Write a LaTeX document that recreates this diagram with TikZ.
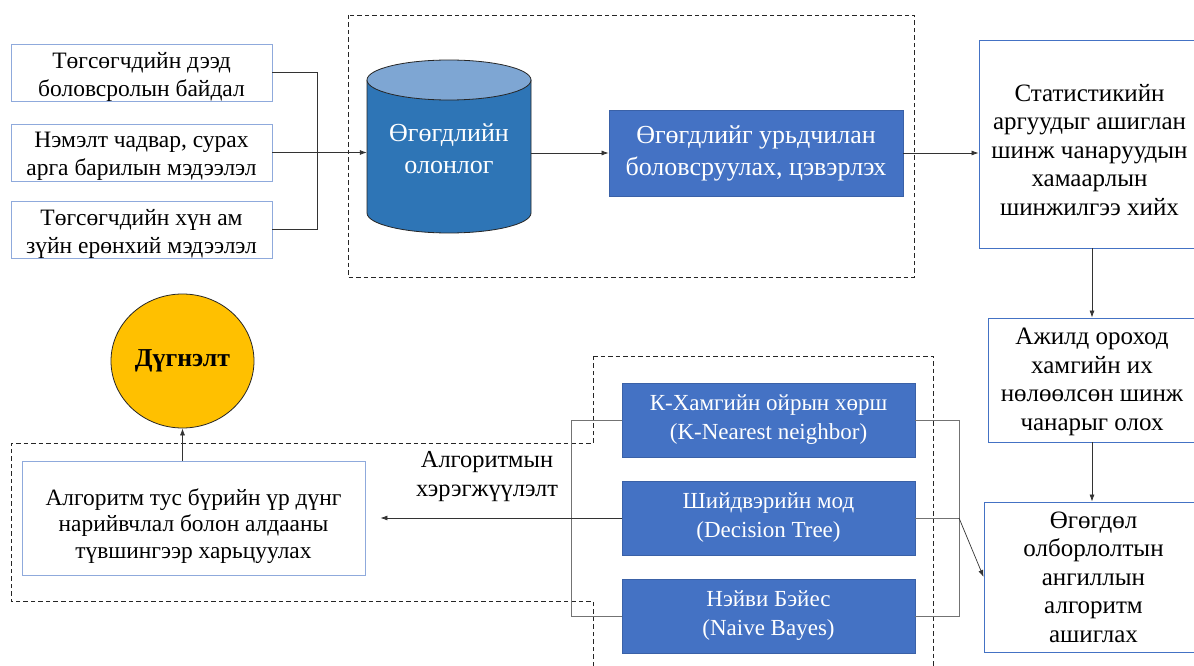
\documentclass[tikz,border=0pt]{standalone}
\usepackage{fontspec}
\setmainfont{Liberation Serif}
\usetikzlibrary{arrows.meta,shapes.geometric,calc}
\definecolor{boxblue}{HTML}{4472C4}
\definecolor{edgeblue}{HTML}{8FAADC}
\definecolor{dbbody}{HTML}{2E75B6}
\definecolor{dbtop}{HTML}{7EA6D3}
\definecolor{gold}{HTML}{FFC000}
\tikzset{
  txt/.style={font=\fontsize{23.5}{28}\selectfont, align=center, inner sep=0pt},
  inbox/.style={draw=edgeblue, line width=0.9pt, fill=white, inner sep=0pt},
  stepbox/.style={draw=boxblue, line width=0.9pt, fill=white, inner sep=0pt},
  steptxt/.style={txt, font=\fontsize{25}{28.5}\selectfont},
  bluebox/.style={txt, draw=boxblue!85!black, line width=0.8pt, fill=boxblue, text=white},
  conn/.style={draw=black!80, line width=0.7pt},
  brk/.style={draw=black!55, line width=0.7pt},
  arr/.style={conn, -{Latex[length=7pt,width=5pt]}},
  grp/.style={draw=black!85, line width=0.8pt, dash pattern=on 4.5pt off 3pt},
}
\begin{document}
\begin{tikzpicture}[x=1pt,y=-1pt]
\useasboundingbox (0,0) rectangle (1194,666);

% group outlines
\draw[grp] (348,15) rectangle (914,277);
\draw[grp] (593,356) -- (933,356) -- (933,666) -- (593,666) -- (593,601)
  -- (11,601) -- (11,443) -- (593,443) -- cycle;

% input data boxes (text sits slightly low in each box)
\node[inbox, minimum width=261, minimum height=57] (b1) at (141.5,72.5) {};
\node[txt] (b1t) at ([yshift=-4]b1.center) {Төгсөгчдийн дээд\\боловсролын байдал};
\node[inbox, minimum width=261, minimum height=57] (b2) at (141.5,152.5) {};
\node[txt] (b2t) at ([yshift=-4]b2.center) {Нэмэлт чадвар, сурах\\арга барилын мэдээлэл};
\node[inbox, minimum width=261, minimum height=57] (b3) at (141.5,229.5) {};
\node[txt] (b3t) at ([yshift=-4]b3.center) {Төгсөгчдийн хүн ам\\зүйн ерөнхий мэдээлэл};

% data store (cylinder)
\node[minimum width=164, minimum height=173, inner sep=0pt] (db) at (449,146.5) {};
\fill[dbbody] (367,80) -- (367,213) arc[start angle=180, end angle=0, x radius=82, y radius=20]
  -- (531,80) -- cycle;
\draw[black!85, line width=0.8pt] (367,80) -- (367,213)
  arc[start angle=180, end angle=0, x radius=82, y radius=20] -- (531,80);
\draw[black!85, line width=0.8pt, fill=dbtop] (449,80) ellipse[x radius=82, y radius=20];
\node[txt, text=white, font=\fontsize{26}{32}\selectfont] (dbt) at (449,149) {Өгөгдлийн\\олонлог};

\node[bluebox, minimum width=294, minimum height=86, font=\fontsize{26}{32}\selectfont] (pre) at (756,153)
  {Өгөгдлийг урьдчилан\\боловсруулах, цэвэрлэх};

% right column
\node[stepbox, minimum width=221, minimum height=208] (stat) at (1089.5,144) {};
\node[steptxt] (statt) at ([yshift=-6]stat.center)
  {Статистикийн\\аргуудыг ашиглан\\шинж чанаруудын\\хамаарлын\\шинжилгээ хийх};
\node[stepbox, minimum width=208, minimum height=124] (feat) at (1092,380) {};
\node[steptxt] (featt) at ([yshift=-2]feat.center)
  {Ажилд ороход\\хамгийн их\\нөлөөлсөн шинж\\чанарыг олох};
\node[stepbox, minimum width=219, minimum height=150] (mine) at (1093.5,577) {};
\node[steptxt] (minet) at (mine.center)
  {Өгөгдөл\\олборлолтын\\ангиллын\\алгоритм\\ашиглах};

% algorithms
\node[bluebox, minimum width=293, minimum height=74, font=\fontsize{23}{29}\selectfont] (knn) at (768.5,420)
  {К-Хамгийн ойрын хөрш\\(K-Nearest neighbor)};
\node[bluebox, minimum width=293, minimum height=74, font=\fontsize{23}{29}\selectfont] (dt) at (768.5,518)
  {Шийдвэрийн мод\\(Decision Tree)};
\node[bluebox, minimum width=293, minimum height=74, font=\fontsize{23}{29}\selectfont] (nb) at (768.5,616)
  {Нэйви Бэйес\\(Naive Bayes)};

% results and conclusion
\node[inbox, minimum width=343, minimum height=114] (res) at (193.5,518) {};
\node[txt, font=\fontsize{23.4}{26.5}\selectfont] (rest) at ([yshift=-8]res.center)
  {Алгоритм тус бүрийн үр дүнг\\нарийвчлал болон алдааны\\түвшингээр харьцуулах};
\node[ellipse, draw=black!85, line width=0.8pt, fill=gold, minimum width=143, minimum height=134,
  inner sep=0pt, font=\fontsize{25.8}{30}\selectfont\bfseries] (concl) at (182.5,361) {Дүгнэлт};
\node[txt, font=\fontsize{24.4}{29}\selectfont] (impl) at (487,477) {Алгоритмын\\хэрэгжүүлэлт};

% connectors
\coordinate (jl) at (317,153);
\draw[conn] (b1.east) -| (jl);
\draw[conn] (b3.east) -| (jl);
\draw[arr] (b2.east) -- (db.west |- b2.east);
\draw[arr] (db.east |- pre.west) -- (pre.west);
\draw[arr] (pre.east) -- (stat.west |- pre.east);
\draw[arr] (feat.north |- stat.south) -- (feat.north);
\draw[arr] (feat.south) -- (mine.north -| feat.south);

\coordinate (jr) at (959,518);
\draw[brk] (knn.east) -| (jr);
\draw[brk] (nb.east) -| (jr);
\draw[brk] (dt.east) -- (jr);
\draw[arr] (jr) -- (mine.west);

\coordinate (jll) at (571,518);
\draw[brk] (knn.west) -| (jll);
\draw[brk] (nb.west) -| (jll);
\draw[arr, shorten >=15pt] (dt.west) -- (res.east);
\draw[arr] (res.north -| concl.south) -- (concl.south);
\end{tikzpicture}
\end{document}
